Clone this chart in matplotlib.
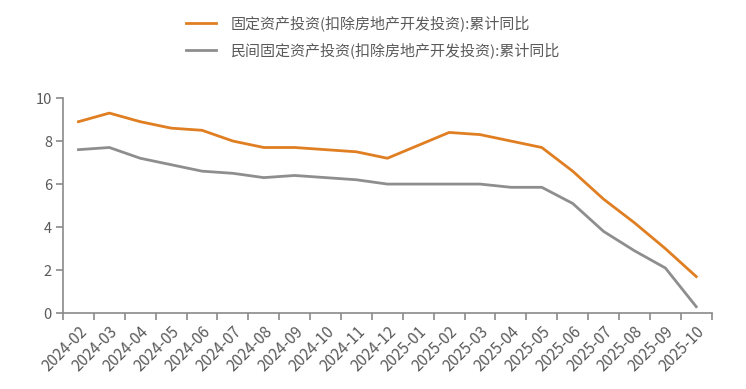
import matplotlib.pyplot as plt
import numpy as np

plt.rcParams["font.family"] = ["Noto Sans CJK SC", "DejaVu Sans"]

months = [
    "2024-02", "2024-03", "2024-04", "2024-05", "2024-06", "2024-07",
    "2024-08", "2024-09", "2024-10", "2024-11", "2024-12",
    "2025-01", "2025-02", "2025-03", "2025-04", "2025-05", "2025-06",
    "2025-07", "2025-08", "2025-09", "2025-10",
]
fai_ex_re = [8.9, 9.3, 8.9, 8.6, 8.5, 8.0, 7.7, 7.7, 7.6, 7.5, 7.2,
             7.8, 8.4, 8.3, 8.0, 7.7, 6.6, 5.3, 4.2, 3.0, 1.7]
private_fai_ex_re = [7.6, 7.7, 7.2, 6.9, 6.6, 6.5, 6.3, 6.4, 6.3, 6.2, 6.0,
                     6.0, 6.0, 6.0, 5.85, 5.85, 5.1, 3.8, 2.9, 2.1, 0.3]
series_names = [
    "固定资产投资(扣除房地产开发投资):累计同比",
    "民间固定资产投资(扣除房地产开发投资):累计同比",
]
y_ticks = [0, 2, 4, 6, 8, 10]

ORANGE = "#E07E22"
GRAY = "#8E8E8E"
AXIS = "#8A8A8A"
TEXT = "#5A5A5A"

fig = plt.figure(figsize=(7.46, 3.89), dpi=100)
ax = fig.add_axes([0.0845, 0.195, 0.8695, 0.553])

x = np.arange(len(months))
ax.plot(x, fai_ex_re, color=ORANGE, linewidth=2.0, label=series_names[0])
ax.plot(x, private_fai_ex_re, color=GRAY, linewidth=2.0, label=series_names[1])

ax.set_xlim(-0.5, len(months) - 0.5)
ax.set_ylim(0, 10)
ax.set_yticks(y_ticks)
ax.set_yticklabels([str(v) for v in y_ticks], fontsize=10.5, color=TEXT)

ax.set_xticks(x)
ax.set_xticklabels(months, rotation=45, ha="right", rotation_mode="anchor",
                   fontsize=11, color=TEXT)
ax.tick_params(axis="x", which="major", length=0, pad=7)
ax.set_xticks(np.arange(len(months) + 1) - 0.5, minor=True)
ax.tick_params(axis="x", which="minor", length=5, color=AXIS, width=1.2)
ax.tick_params(axis="y", length=5, color=AXIS, width=1.2, pad=3)

for s in ["top", "right"]:
    ax.spines[s].set_visible(False)
for s in ["left", "bottom"]:
    ax.spines[s].set_color(AXIS)
    ax.spines[s].set_linewidth(1.2)

leg = fig.legend(loc="upper center", bbox_to_anchor=(0.5, 0.995), frameon=False,
                 fontsize=10.8, handlelength=2.0, handletextpad=1.0,
                 labelspacing=0.75)
for t in leg.get_texts():
    t.set_color(TEXT)

fig.savefig("out.png", dpi=100)
